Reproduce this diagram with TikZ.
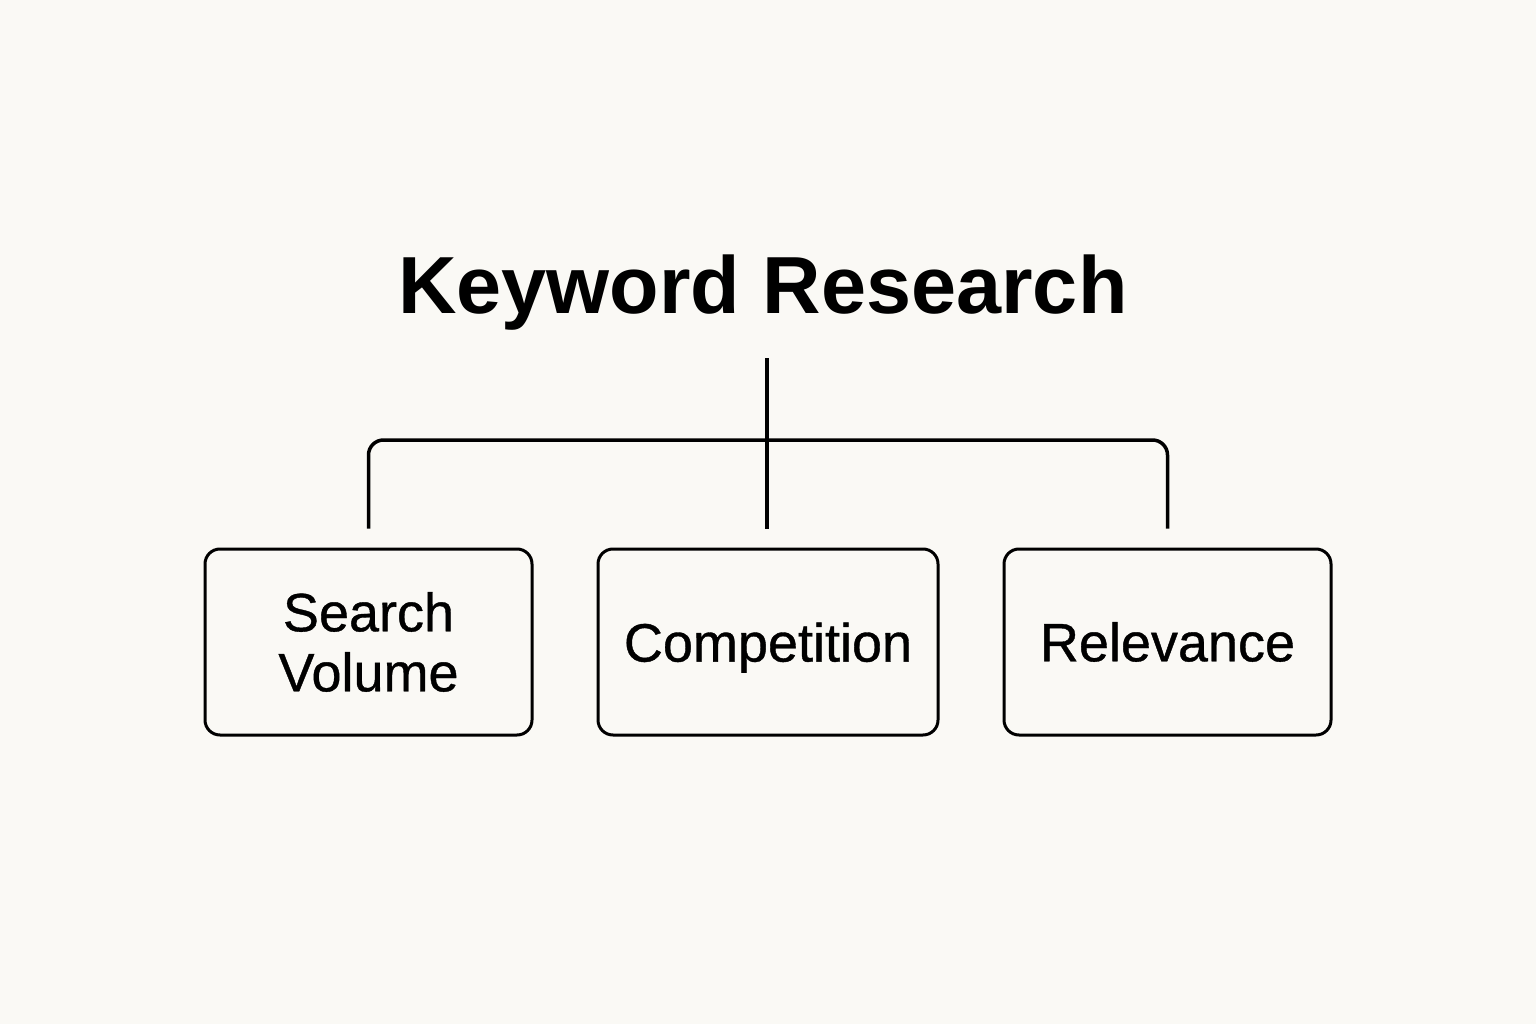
\documentclass[tikz,border=0pt]{standalone}
\usepackage{fontspec}
\setmainfont{Liberation Sans}
\newfontfamily\boxfont[FakeBold=0.7]{Liberation Sans}
\definecolor{bg}{RGB}{250,249,245}
\begin{document}
\begin{tikzpicture}[x=1pt,y=-1pt,
  box/.style={draw=black,line width=3pt,rounded corners=15pt,minimum height=186pt,
    inner sep=0pt,align=center,font=\boxfont\fontsize{54}{60}\selectfont},
  conn/.style={draw=black,line width=3.5pt,rounded corners=15pt},
  title/.style={font=\fontsize{81}{90}\selectfont\bfseries,anchor=base,inner sep=0pt}]
\fill[bg] (0,0) rectangle (1536,1024);
\useasboundingbox (0,0) rectangle (1536,1024);
\node[title] (kw) at (763,313) {Keyword Research};
\node[box,minimum width=327pt] (sv) at (368.5,642) {Search\\Volume};
\node[box,minimum width=340pt] (comp) at (768,642) {\raisebox{0pt}[\height][0pt]{Competition}};
\node[box,minimum width=327pt] (rel) at (1167.5,642) {Relevance};
\coordinate (trunk) at (767,358);
\coordinate (hub) at (767,440);
\coordinate (svt) at ([yshift=19pt]sv.north);
\coordinate (compt) at ([yshift=19pt]comp.north);
\coordinate (relt) at ([yshift=19pt]rel.north);
\draw[conn] (trunk) -- (trunk |- compt);
\draw[conn] (svt) -- (svt |- hub) -- (relt |- hub) -- (relt);
\end{tikzpicture}
\end{document}
